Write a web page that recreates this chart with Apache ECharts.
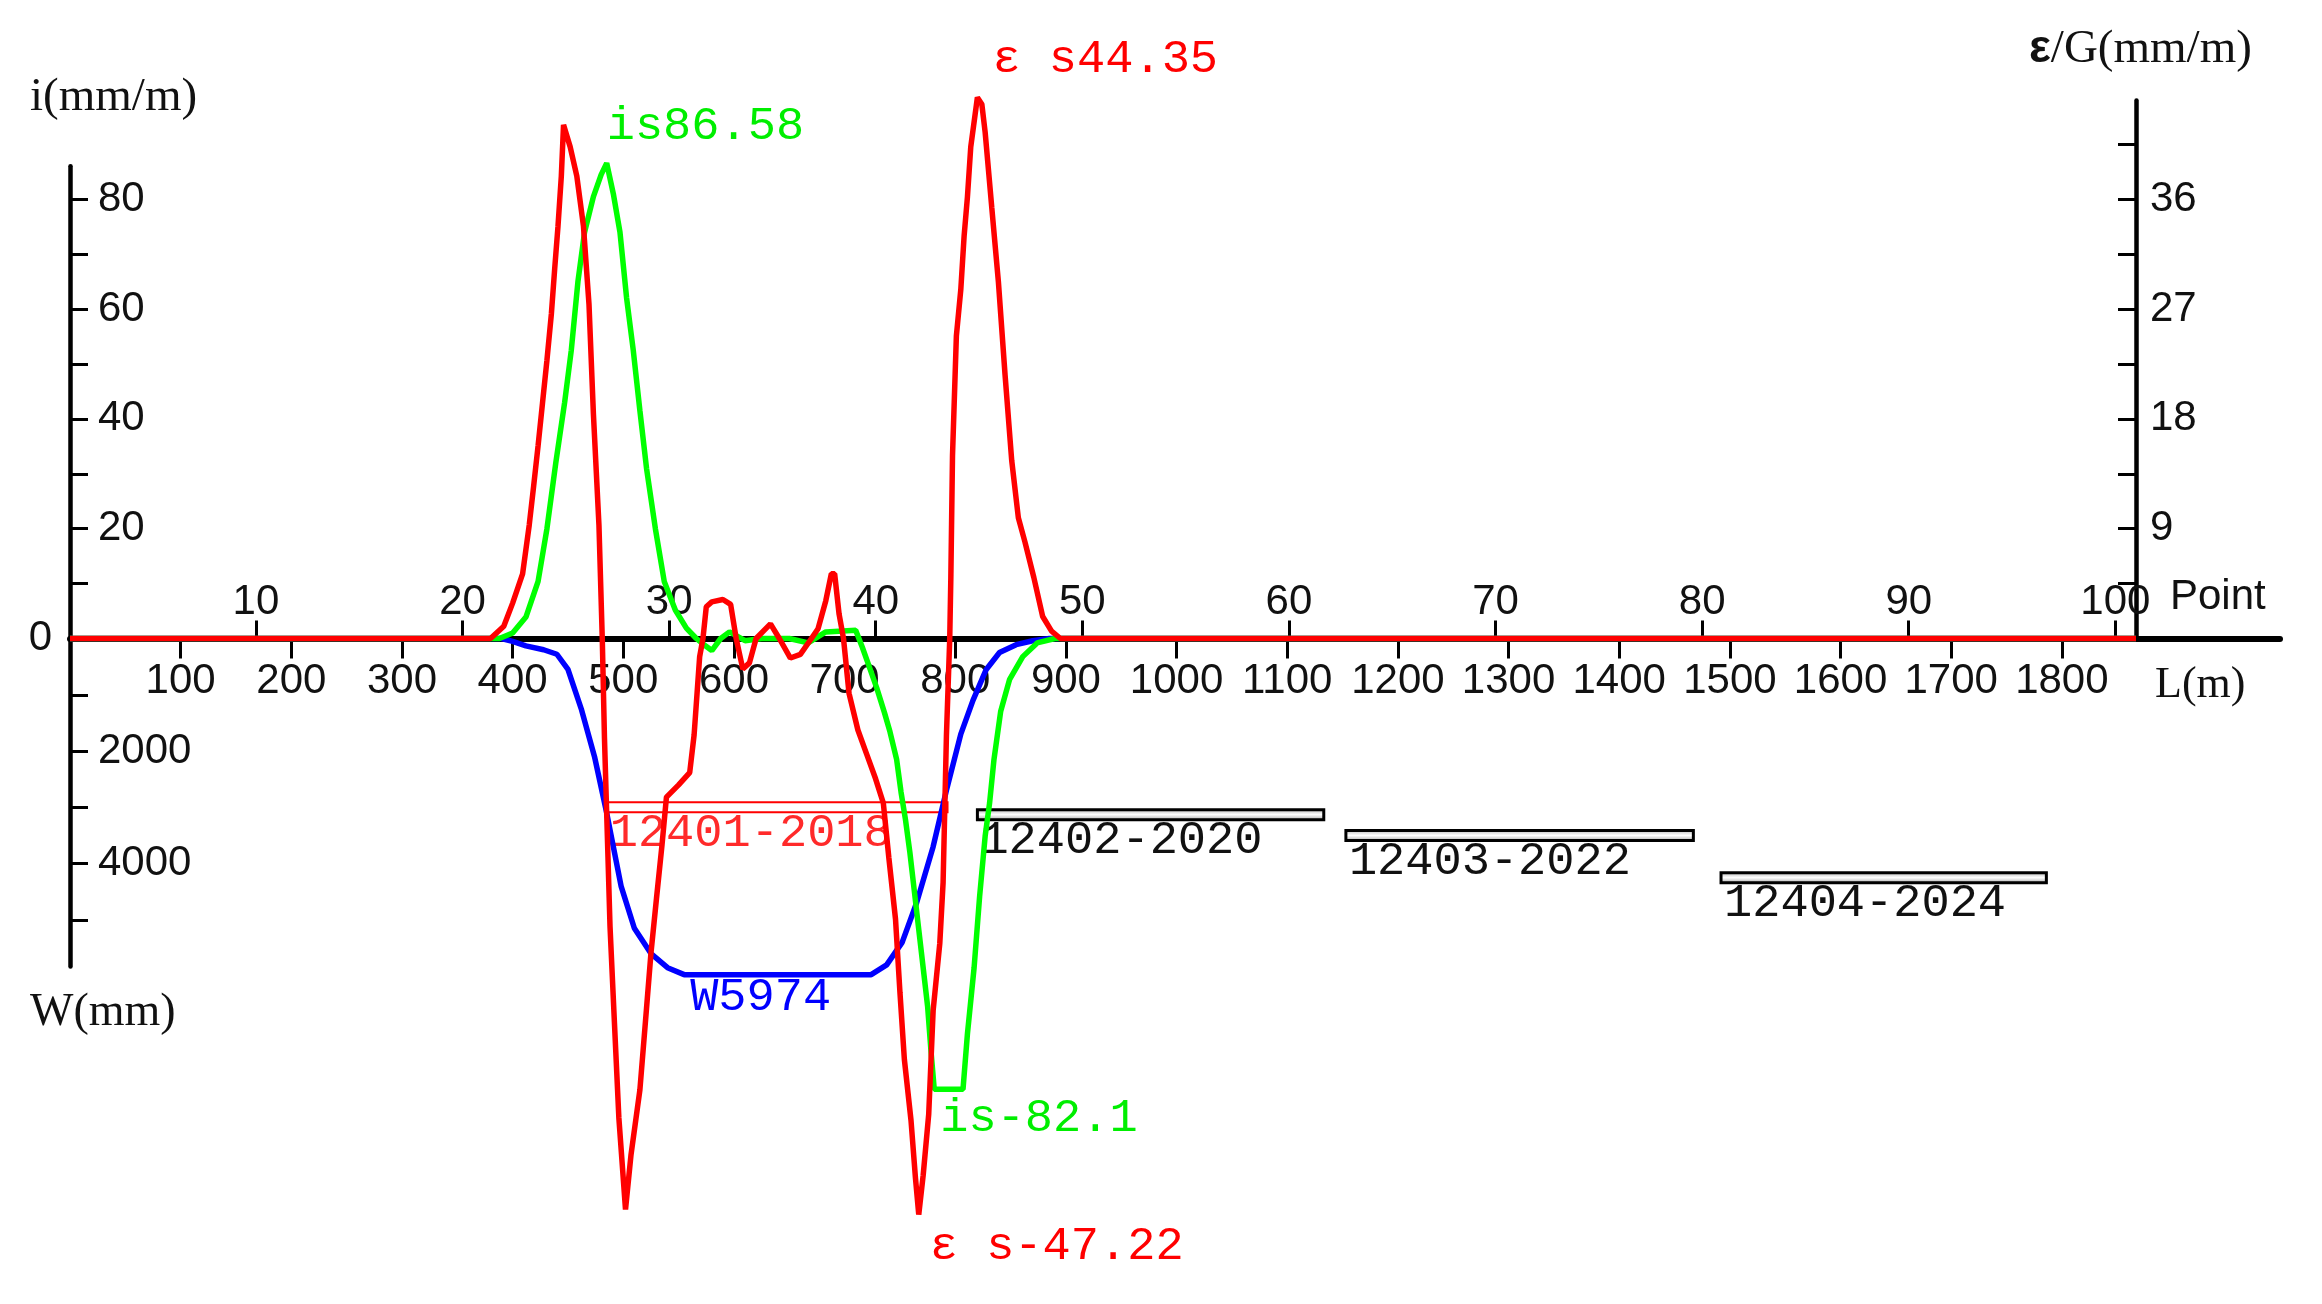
<!DOCTYPE html>
<html>
<head>
<meta charset="utf-8">
<script src="https://cdn.jsdelivr.net/npm/echarts/dist/echarts.min.js"></script>
<style>
  html, body { margin: 0; padding: 0; background: #fff; }
  #chart { width: 2322px; height: 1304px; }
</style>
</head>
<body>
<div id="chart"></div>
<script>
// ---------------- data ----------------
const lTicks = [100,200,300,400,500,600,700,800,900,1000,1100,1200,1300,1400,1500,1600,1700,1800];
const pointTicks = [10,20,30,40,50,60,70,80,90,100];
const iTicks = [10,20,30,40,50,60,70,80];
const iLabels = [20,40,60,80];
const wTicks = [1000,2000,3000,4000,5000];
const wLabels = [2000,4000];
const epsTicks = [4.5,9,13.5,18,22.5,27,31.5,36,40.5];
const epsLabels = [9,18,27,36];
const zeroLabel = [0];

// red: horizontal strain ε (mm/m) vs L (m)
const epsL = [0,380,392,400,409,415,419,423,427,431,435,438,441,444,446,452,458,464,469,473,478,481,483,488,492,496,502,507,515,521,525,530,535,539,550,560,564,569,572,575,580,590,597,602,608,614,620,633,641,651,660,670,676,683,688,691,695,699,704,712,720,728,735,740,746,750,754,760,764,767,771,776,780,786,789,792,795,796,797.5,801,805,808,811,814,820,824,827,833,839,845,851,857,863,871,879,887,895,1867];
const epsV = [0,0,1,2.9,5.3,9.3,12.5,15.8,19.3,22.8,26.6,30.3,33.8,37.9,42.1,40.3,37.9,33.8,27.4,18.4,9.3,0,-8.2,-23.6,-31.5,-39.3,-46.8,-42.3,-37,-30.3,-25.8,-21.3,-16.9,-13,-12,-11,-7.9,-1.5,0,2.6,3,3.2,2.8,0,-2.5,-2,0,1.2,0,-1.6,-1.3,0,0.8,3.1,5.3,5.3,2,0,-4.5,-7.5,-9.5,-11.5,-13.5,-18,-23,-29,-34.5,-39.5,-44.2,-47.22,-44,-39,-30.5,-25,-20,-8,0,5,15,24.8,28.6,33,36.2,40.3,44.35,43.8,41.5,35.3,29.2,21.6,14.6,9.9,7.9,5,1.8,0.6,0,0];

// green: tilt i (mm/m) vs L (m)
const iL = [0,388,400,412,423,431,439,447,453,459,465,473,480,485,491,497,503,509,515,521,529,537,547,557,566,572,580,588,596,610,625,650,667,683,710,716,722,729,736,741,747,751,755,759,763,767,771,775,778,781,807,811,817,822,827,831,835,841,849,861,874,890,1867];
const iV = [0,0,1,3.9,10.4,20,32,43,52.5,65,74,80.5,84.5,86.58,81,74,62,52.5,41.5,31,20,10.4,5.2,1.9,0,-1,-2.2,0,1.2,-0.4,0,0,-0.8,1.2,1.5,-1.6,-5,-9,-13.5,-17,-22,-28,-33,-39,-46,-53,-60,-67,-75,-82.1,-82.1,-72,-60,-47,-36,-30,-22,-13.3,-7.5,-3.3,-0.8,0,0];

// blue: subsidence W (mm) vs L (m)
const wL = [0,390,400,412,428,440,450,462,474,485,498,510,525,540,555,724,738,752,765,780,792,805,816,828,840,855,870,885,1867];
const wV = [0,0,50,130,200,280,550,1250,2100,3100,4400,5150,5600,5850,5974,5974,5800,5400,4700,3700,2700,1700,1100,550,250,110,40,0,0];

// working faces
const faceNames = ['12401-2018','12402-2020','12403-2022','12404-2024'];
const faceStart = [485, 820, 1153, 1492];
const faceEnd   = [793, 1133, 1467, 1786];
const faceLevel = [3000, 3130, 3500, 4250];

// ---------------- layout ----------------
const X0 = 70, XR = 2136, XE = 2280, ZERO_Y = 638.5;
const L_AT_RIGHT = 1867;     // L (m) at the right-hand axis
const M_PER_POINT = 18.67;   // spacing of measuring points (m)
const PX_PER_M = (XR - X0) / L_AT_RIGHT;
const L_END = (XE - X0) / PX_PER_M;
const I_MAX = 86, I_PX = 5.49;
const E_MAX = 44.1, E_PX = I_PX * 20 / 9;
const W_MAX = 5830, W_PX = 0.05627;

const SANS = '"Liberation Sans", Arial, sans-serif';
const SERIF = '"Liberation Serif", "Times New Roman", serif';
const MONO = '"Liberation Mono", "DejaVu Sans Mono", monospace';
const TXT = '#111';
const LINE_W = 5.5;

const grayFill = { type: 'linear', x: 0, y: 0, x2: 0, y2: 1,
  colorStops: [{offset:0,color:'#aaa'},{offset:0.5,color:'#fff'},{offset:1,color:'#999'}] };
const faceStyles = [
  { rect: { stroke: '#ff0000', lineWidth: 2, fill: 'rgba(255,255,255,0)' }, text: '#ff2a2a' },
  { rect: { stroke: '#000', lineWidth: 3, fill: grayFill }, text: '#111' },
  { rect: { stroke: '#000', lineWidth: 3, fill: grayFill }, text: '#111' },
  { rect: { stroke: '#000', lineWidth: 3, fill: grayFill }, text: '#111' }
];

function labelledData(xs, ys, marks) {
  return xs.map((x, k) => {
    const m = marks.find(mm => mm.idx === k);
    if (!m) return [x, ys[k]];
    return { value: [x, ys[k]], label: { show: true, formatter: m.text, position: m.pos, color: m.color,
      fontFamily: MONO, fontSize: 47, align: 'left', verticalAlign: 'middle' } };
  });
}

const iMax = Math.max(...iV), iMin = Math.min(...iV);
const eMax = Math.max(...epsV), eMin = Math.min(...epsV);
const wMax = Math.max(...wV);

const greenData = labelledData(iL, iV, [
  { idx: iV.indexOf(iMax), text: 'is' + iMax, pos: [0, -37], color: '#00ee00' },
  { idx: iV.indexOf(iMin), text: 'is' + iMin, pos: [6, 29], color: '#00ee00' }
]);
const redData = labelledData(epsL, epsV, [
  { idx: epsV.indexOf(eMax), text: 'ε s' + eMax, pos: [15, -38], color: '#ff0000' },
  { idx: epsV.indexOf(eMin), text: 'ε s' + eMin, pos: [11, 32], color: '#ff0000' }
]);
const blueData = labelledData(wL, wV, [
  { idx: wV.indexOf(wMax), text: 'W' + wMax, pos: [6, 23], color: '#0000ff' }
]);
const faceData = faceNames.map((n, k) => [faceStart[k], faceEnd[k], faceLevel[k]]);

const axisLabelBase = { color: TXT, fontFamily: SANS, fontSize: 42, formatter: v => String(v) };

const chart = echarts.init(document.getElementById('chart'), null, { renderer: 'canvas' });
chart.setOption({
  backgroundColor: '#fff',
  animation: false,
  grid: [
    { left: X0, width: XE - X0, top: ZERO_Y - I_MAX * I_PX, height: I_MAX * I_PX, containLabel: false, outerBoundsMode: 'none' },
    { left: X0, width: XE - X0, top: ZERO_Y, height: W_MAX * W_PX, containLabel: false, outerBoundsMode: 'none' },
    { left: X0, width: XR - X0, top: ZERO_Y - E_MAX * E_PX, height: E_MAX * E_PX, containLabel: false, outerBoundsMode: 'none' }
  ],
  xAxis: [
    { gridIndex: 0, type: 'value', min: 0, max: L_END, position: 'bottom',
      axisLine: { show: true, onZero: false, lineStyle: { color: '#000', width: 6 } },
      axisTick: { show: true, customValues: lTicks, length: 20, lineStyle: { color: '#000', width: 3 } },
      axisLabel: Object.assign({ customValues: lTicks, margin: 22 }, axisLabelBase),
      splitLine: { show: false } },
    { gridIndex: 0, type: 'value', min: 1, max: 1 + L_END / M_PER_POINT, position: 'bottom',
      axisLine: { show: false, onZero: false },
      axisTick: { show: true, inside: true, customValues: pointTicks, length: 18, lineStyle: { color: '#000', width: 3 } },
      axisLabel: Object.assign({ inside: true, customValues: pointTicks, margin: 15 }, axisLabelBase),
      splitLine: { show: false } },
    { gridIndex: 1, type: 'value', min: 0, max: L_END, show: false },
    { gridIndex: 2, type: 'value', min: 0, max: L_AT_RIGHT, show: false }
  ],
  yAxis: [
    { gridIndex: 0, type: 'value', min: 0, max: I_MAX, position: 'left',
      axisLine: { show: true, onZero: false, lineStyle: { color: '#000', width: 4.5 } },
      axisTick: { show: true, inside: true, customValues: iTicks, length: 18, lineStyle: { color: '#000', width: 3 } },
      axisLabel: Object.assign({ inside: true, customValues: iLabels, margin: 28 }, axisLabelBase),
      splitLine: { show: false } },
    { gridIndex: 0, type: 'value', min: 0, max: I_MAX, position: 'left',
      axisLine: { show: false, onZero: false }, axisTick: { show: false },
      axisLabel: Object.assign({ customValues: zeroLabel, margin: 18 }, axisLabelBase),
      splitLine: { show: false } },
    { gridIndex: 1, type: 'value', min: 0, max: W_MAX, inverse: true, position: 'left',
      axisLine: { show: true, onZero: false, lineStyle: { color: '#000', width: 4.5 } },
      axisTick: { show: true, inside: true, customValues: wTicks, length: 18, lineStyle: { color: '#000', width: 3 } },
      axisLabel: Object.assign({ inside: true, customValues: wLabels, margin: 28 }, axisLabelBase),
      splitLine: { show: false } },
    { gridIndex: 2, type: 'value', min: 0, max: E_MAX, position: 'right',
      axisLine: { show: true, onZero: false, lineStyle: { color: '#000', width: 4.5 } },
      axisTick: { show: true, inside: true, customValues: epsTicks, length: 18, lineStyle: { color: '#000', width: 3 } },
      axisLabel: Object.assign({ customValues: epsLabels, margin: 14 }, axisLabelBase),
      splitLine: { show: false } }
  ],
  graphic: [
    { type: 'text', left: 30, top: 74, style: { text: 'i(mm/m)', font: '47px ' + SERIF, fill: TXT } },
    { type: 'text', left: 30, top: 990, style: { text: 'W(mm)', font: '46px ' + SERIF, fill: TXT } },
    { type: 'text', left: 2155, top: 663, style: { text: 'L(m)', font: '44px ' + SERIF, fill: TXT } },
    { type: 'text', left: 2170, top: 576, style: { text: 'Point', font: '42px ' + SANS, fill: TXT } },
    { type: 'text', left: 2029, top: 26, style: { text: '{e|ε}{s|/G(mm/m)}', fill: TXT,
        rich: { e: { fontFamily: SANS, fontWeight: 'bold', fontSize: 46, color: TXT }, s: { fontFamily: SERIF, fontSize: 47, color: TXT } } } }
  ],
  series: [
    { type: 'custom', name: 'faces', xAxisIndex: 2, yAxisIndex: 2, clip: false, z: 1, silent: true,
      data: faceData,
      renderItem: function (params, api) {
        const s = api.coord([api.value(0), api.value(2)]);
        const e = api.coord([api.value(1), api.value(2)]);
        const st = faceStyles[params.dataIndex];
        return { type: 'group', children: [
          { type: 'rect', shape: { x: s[0], y: s[1] - 5, width: e[0] - s[0], height: 10 }, style: st.rect },
          { type: 'text', x: s[0] + 3, y: s[1] + 26,
            style: { text: faceNames[params.dataIndex], font: '47px ' + MONO, fill: st.text,
              align: 'left', verticalAlign: 'middle', textAlign: 'left', textVerticalAlign: 'middle' } }
        ] };
      } },
    { type: 'line', name: 'W', xAxisIndex: 2, yAxisIndex: 2, data: blueData, clip: false, z: 2,
      showSymbol: true, symbol: 'circle', symbolSize: 0, label: { show: false },
      lineStyle: { color: '#0000ff', width: LINE_W }, itemStyle: { color: '#0000ff' } },
    { type: 'line', name: 'i', xAxisIndex: 0, yAxisIndex: 0, data: greenData, clip: false, z: 3,
      showSymbol: true, symbol: 'circle', symbolSize: 0, label: { show: false },
      lineStyle: { color: '#00ff00', width: LINE_W }, itemStyle: { color: '#00ff00' } },
    { type: 'line', name: 'ε', xAxisIndex: 3, yAxisIndex: 3, data: redData, clip: false, z: 4,
      showSymbol: true, symbol: 'circle', symbolSize: 0, label: { show: false },
      lineStyle: { color: '#ff0000', width: LINE_W }, itemStyle: { color: '#ff0000' } }
  ]
});
</script>
</body>
</html>
